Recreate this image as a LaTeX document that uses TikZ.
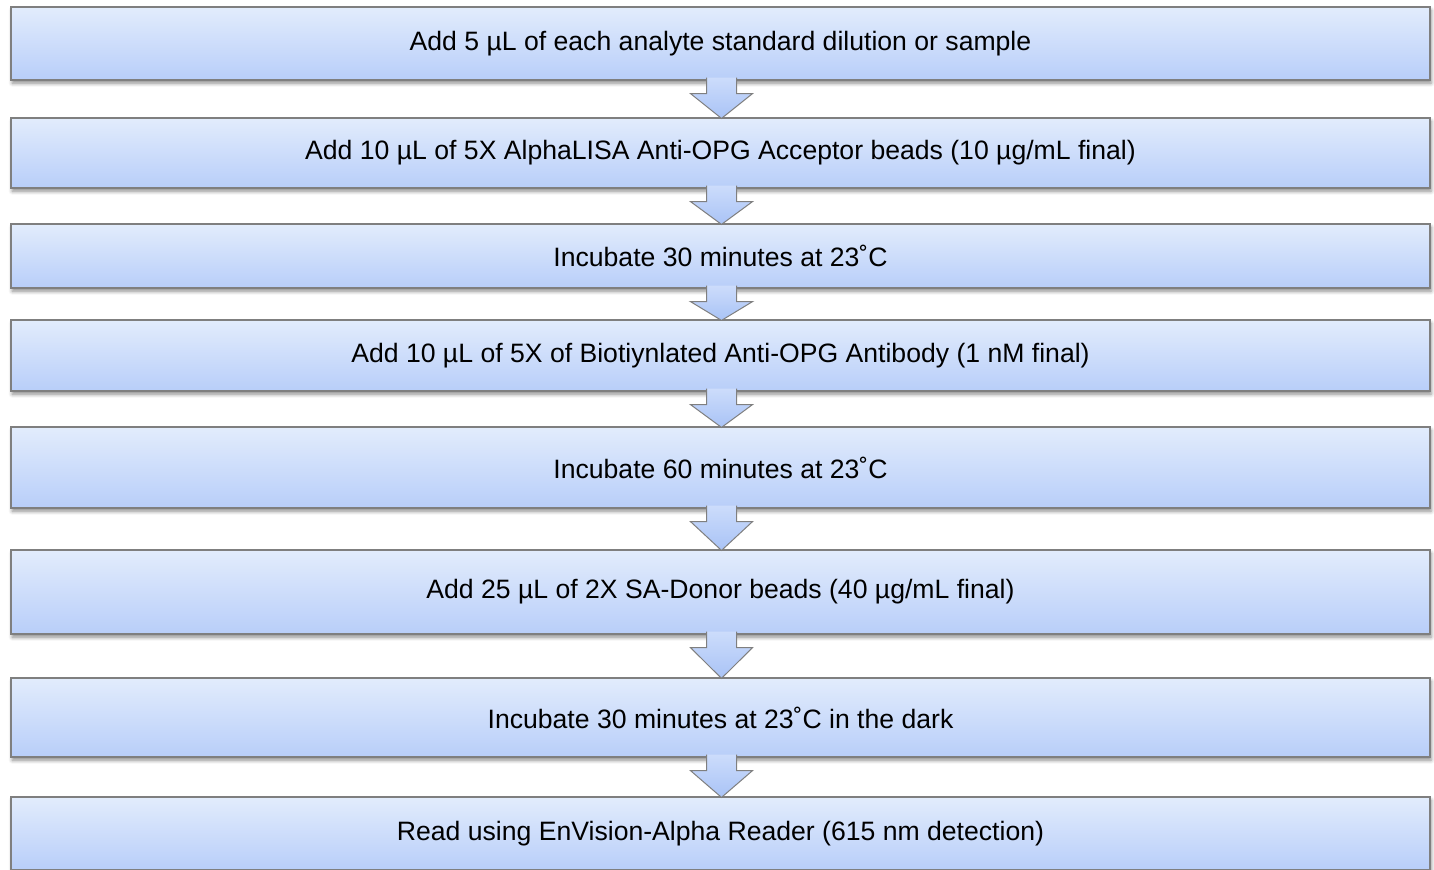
\documentclass[tikz,border=0pt]{standalone}
\usepackage{fontspec}
\setmainfont{Liberation Sans}
\usetikzlibrary{calc,shadows.blur}

\definecolor{boxtop}{HTML}{E2ECFC}
\definecolor{boxbottom}{HTML}{B8CEF9}
\definecolor{boxline}{HTML}{7F7F7F}
\definecolor{arrowtop}{HTML}{CCDCFB}
\definecolor{arrowbottom}{HTML}{A9C3F6}

\begin{document}
\begin{tikzpicture}[stepbox/.style={rectangle, draw=boxline, line width=0.6pt, top color=boxtop, bottom color=boxbottom, minimum width=709.5pt, inner sep=0pt, font=\fontsize{13.3}{16}\selectfont, blur shadow={shadow xshift=0.6pt, shadow yshift=-1.6pt, shadow blur radius=1.8pt, shadow opacity=45}},
    flowarrow/.style={draw=boxline, line width=0.5pt, top color=arrowtop, bottom color=arrowbottom, line join=miter}]

                \useasboundingbox (0,0) rectangle (717pt,-434.5pt);

                \node[stepbox, minimum height=36.5pt] (s1) at (360.25pt,-21.75pt) {Add 5 µL of each analyte standard dilution or sample};
                \node[stepbox, minimum height=35pt]   (s2) at (360.25pt,-76.5pt)  {Add 10 µL of 5X AlphaLISA Anti-OPG Acceptor beads (10 µg/mL final)};
                \node[stepbox, minimum height=32pt]   (s3) at (360.25pt,-128pt)   {Incubate 30 minutes at 23˚C};
                \node[stepbox, minimum height=35.5pt] (s4) at (360.25pt,-177.75pt) {Add 10 µL of 5X of Biotiynlated Anti-OPG Antibody (1 nM final)};
                \node[stepbox, minimum height=40.5pt] (s5) at (360.25pt,-233.75pt) {Incubate 60 minutes at 23˚C};
                \node[stepbox, minimum height=42pt]   (s6) at (360.25pt,-296pt)   {Add 25 µL of 2X SA-Donor beads (40 µg/mL final)};
                \node[stepbox, minimum height=39.5pt] (s7) at (360.25pt,-358.75pt) {Incubate 30 minutes at 23˚C in the dark};
                \node[stepbox, minimum height=36.5pt] (s8) at (360.25pt,-416.75pt) {Read using EnVision-Alpha Reader (615 nm detection)};

                % block arrows between the steps
                \foreach \a/\b in {s1/s2, s2/s3, s3/s4, s4/s5, s5/s6, s6/s7, s7/s8}
                    \path[flowarrow] let \p1=(\a.south), \p2=(\b.north) in
                        (\x1-7pt,\y1+1.5pt) -- (\x1-7pt,\y1-6.5pt) -- (\x1-15pt,\y1-6.5pt)
                        -- (\x1+0.5pt,\y2-0.5pt)
                        -- (\x1+16pt,\y1-6.5pt) -- (\x1+8pt,\y1-6.5pt) -- (\x1+8pt,\y1+1.5pt);
            \end{tikzpicture}
\end{document}
